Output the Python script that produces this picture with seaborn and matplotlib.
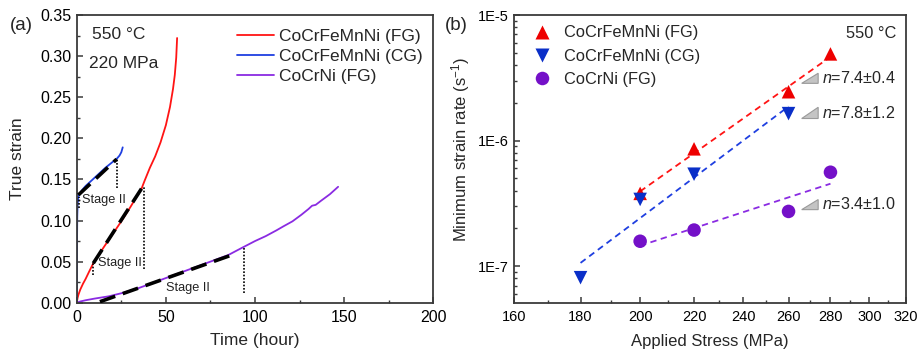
import numpy as np
import pandas as pd
import matplotlib
matplotlib.use("Agg")
import matplotlib.pyplot as plt
from matplotlib.patches import Polygon
from matplotlib.ticker import MultipleLocator, FixedLocator, NullFormatter, FixedFormatter, LogLocator
import seaborn as sns

# ---------------- data: panel (a) creep curves ----------------
fg_time = [0, 0.5, 1, 2, 3.5, 5, 7, 9.3, 15, 20, 25, 30, 36.4, 38, 41, 44, 47, 50, 52.3, 54, 55, 55.8, 56.3]
fg_strain = [0, 0.006, 0.010, 0.016, 0.023, 0.029, 0.038, 0.048, 0.067, 0.083, 0.099, 0.116, 0.139,
             0.148, 0.164, 0.178, 0.195, 0.216, 0.238, 0.260, 0.277, 0.298, 0.322]
cg_time = [0, 0.1, 0.2, 0.3, 0.5, 0.8, 1.2, 3, 5, 8, 12, 16, 20, 22.4, 24, 25, 25.8]
cg_strain = [0, 0.04, 0.08, 0.105, 0.12, 0.127, 0.131, 0.137, 0.142, 0.148, 0.156, 0.164, 0.171,
             0.175, 0.179, 0.183, 0.189]
ni_time = [0, 2, 5, 10, 18, 25, 35, 45, 55, 65, 75, 85, 92, 100, 106, 112, 116, 121, 126, 130,
           132, 134, 137, 142, 146.6]
ni_strain = [0, 0.0015, 0.003, 0.005, 0.0078, 0.0115, 0.018, 0.026, 0.034, 0.042, 0.050, 0.058,
             0.066, 0.075, 0.081, 0.088, 0.093, 0.099, 0.107, 0.114, 0.118, 0.119, 0.124, 0.132, 0.141]

# stage II linear fits (start/end points) and dotted markers
stage_fg = ([9.3, 36.4], [0.048, 0.139])
stage_cg = ([0.9, 22.4], [0.131, 0.1746])
stage_ni = ([13.0, 86.9], [0.0012, 0.058])
dotted_x = [1.3, 22.8, 9.3, 37.7, 94.0]
dotted_y0 = [0.1148, 0.139, 0.0337, 0.0406, 0.012]
dotted_y1 = [0.128, 0.1757, 0.048, 0.1404, 0.066]
stage_text_x = [3.1, 12.1, 50.1]
stage_text_y = [0.125, 0.0487, 0.0175]

# ---------------- data: panel (b) minimum strain rate ----------------
fg_stress = [200, 220, 260, 280]
fg_rate = [3.8e-7, 8.6e-7, 2.45e-6, 4.9e-6]
cg_stress = [180, 200, 220, 260]
cg_rate = [8.1e-8, 3.4e-7, 5.4e-7, 1.64e-6]
ni_stress = [200, 220, 260, 280]
ni_rate = [1.58e-7, 1.94e-7, 2.73e-7, 5.6e-7]
n_labels = ["7.4\u00b10.4", "7.8\u00b11.2", "3.4\u00b11.0"]

labels = ["CoCrFeMnNi (FG)", "CoCrFeMnNi (CG)", "CoCrNi (FG)"]
line_colors = ["#ff1414", "#1f3fe0", "#8a2be2"]
mark_colors = ["#ee0000", "#0a2fc8", "#7410c8"]

sns.set_theme(style="ticks")
plt.rcParams["font.family"] = ["Liberation Sans", "DejaVu Sans"]
plt.rcParams["mathtext.fontset"] = "custom"
plt.rcParams["mathtext.rm"] = "Liberation Sans"
plt.rcParams["mathtext.it"] = "Liberation Sans:italic"
plt.rcParams["axes.edgecolor"] = "#3a3a3a"
plt.rcParams["axes.linewidth"] = 1.3

fig = plt.figure(figsize=(9.21, 3.59), dpi=100)
axL = fig.add_axes([0.0833, 0.1568, 0.4705 - 0.0833, 0.9582 - 0.1568])
axR = fig.add_axes([0.558, 0.155, 0.9837 - 0.558, 0.9582 - 0.155])

# ---------- panel (a) ----------
curves = pd.concat([
    pd.DataFrame({"t": fg_time, "e": fg_strain, "s": labels[0]}),
    pd.DataFrame({"t": cg_time, "e": cg_strain, "s": labels[1]}),
    pd.DataFrame({"t": ni_time, "e": ni_strain, "s": labels[2]}),
])
sns.lineplot(data=curves, x="t", y="e", hue="s", palette=line_colors, sort=False,
             estimator=None, lw=1.3, ax=axL)
for st in (stage_fg, stage_cg, stage_ni):
    axL.plot(st[0], st[1], color="black", lw=2.6, ls=(0, (4.5, 2.2)), zorder=5)
for x, y0, y1 in zip(dotted_x, dotted_y0, dotted_y1):
    axL.plot([x, x], [y0, y1], color="black", lw=1.2, ls=(0, (1, 1)), zorder=5)
for x, y in zip(stage_text_x, stage_text_y):
    axL.text(x, y, "Stage II", fontsize=9.2, ha="left", va="center", color="#222")
axL.text(8.4, 0.3257, "550 \u00b0C", fontsize=12.5, ha="left", va="center")
axL.text(7.1, 0.2912, "220 MPa", fontsize=12.5, ha="left", va="center")

axL.set_xlim(0, 200)
axL.set_ylim(0, 0.35)
axL.xaxis.set_major_locator(MultipleLocator(50))
axL.xaxis.set_minor_locator(MultipleLocator(25))
axL.yaxis.set_major_locator(MultipleLocator(0.05))
axL.yaxis.set_minor_locator(MultipleLocator(0.025))
axL.yaxis.set_major_formatter(matplotlib.ticker.FormatStrFormatter("%.2f"))
axL.tick_params(which="both", direction="in", labelsize=11.5, colors="#3a3a3a", labelcolor="black")
axL.tick_params(which="major", length=4, width=1.1)
axL.tick_params(which="minor", length=2.5, width=1.0)
axL.tick_params(axis="y", pad=4)
axL.tick_params(axis="x", pad=5)
axL.set_xlabel("Time (hour)", fontsize=12.5, labelpad=6)
axL.set_ylabel("True strain", fontsize=12.5)
axL.yaxis.set_label_coords(-0.145, 0.5)
leg = axL.legend(loc="upper left", bbox_to_anchor=(0.44, 0.965), borderaxespad=0, borderpad=0.2,
                 handlelength=2.1, handletextpad=0.3, labelspacing=0.3, frameon=False, fontsize=12.5)
for h in leg.get_lines():
    h.set_linewidth(1.3)

# ---------- panel (b) ----------
pts = pd.concat([
    pd.DataFrame({"x": fg_stress, "y": fg_rate, "s": labels[0]}),
    pd.DataFrame({"x": cg_stress, "y": cg_rate, "s": labels[1]}),
    pd.DataFrame({"x": ni_stress, "y": ni_rate, "s": labels[2]}),
])
axR.set_xscale("log")
axR.set_yscale("log")
for xs, ys, c in zip((fg_stress, cg_stress, ni_stress), (fg_rate, cg_rate, ni_rate), line_colors):
    lx, ly = np.log10(xs), np.log10(ys)
    k, b = np.polyfit(lx, ly, 1)
    gx = np.linspace(lx.min(), lx.max(), 30)
    axR.plot(10 ** gx, 10 ** (k * gx + b), color=c, lw=1.3, ls=(0, (3.5, 2.5)), zorder=2)
sns.scatterplot(data=pts, x="x", y="y", hue="s", style="s", markers=["^", "v", "o"],
                palette=mark_colors, s=95, edgecolor="none", ax=axR, zorder=3)

axR.set_xlim(160, 320)
axR.set_ylim(5.06e-8, 1e-5)
xt = [160, 180, 200, 220, 240, 260, 280, 300, 320]
axR.xaxis.set_major_locator(FixedLocator(xt))
axR.xaxis.set_major_formatter(FixedFormatter([str(v) for v in xt]))
axR.xaxis.set_minor_locator(FixedLocator([170, 190, 210, 230, 250, 270, 290, 310]))
axR.xaxis.set_minor_formatter(NullFormatter())
axR.yaxis.set_major_locator(FixedLocator([1e-7, 1e-6, 1e-5]))
axR.yaxis.set_major_formatter(FixedFormatter(["1E-7", "1E-6", "1E-5"]))
axR.yaxis.set_minor_locator(LogLocator(base=10, subs=np.arange(2, 10)))
axR.yaxis.set_minor_formatter(NullFormatter())
axR.tick_params(which="both", direction="in", labelsize=10.5, colors="#3a3a3a", labelcolor="black")
axR.tick_params(which="major", length=4, width=1.1)
axR.tick_params(which="minor", length=2.5, width=1.0)
axR.tick_params(axis="y", pad=4)
axR.tick_params(axis="x", pad=5)
axR.set_xlabel("Applied Stress (MPa)", fontsize=12, labelpad=7)
axR.set_ylabel("Minimum strain rate (s$^{-1}$)", fontsize=12)
axR.yaxis.set_label_coords(-0.107, 0.535)
axR.legend(loc="upper left", bbox_to_anchor=(0.037, 0.975), borderaxespad=0, borderpad=0.2,
           handlelength=1.2, handletextpad=0.8, labelspacing=0.5, frameon=False, fontsize=11.8,
           markerscale=1.0)
axR.text(0.975, 0.935, "550 \u00b0C", transform=axR.transAxes, fontsize=11.8, ha="right", va="center")

tri_y = [(0.763, 0.798, 0.780), (0.641, 0.680, 0.660), (0.325, 0.360, 0.345)]
for (yb, yt, ytx), lab in zip(tri_y, n_labels):
    axR.add_patch(Polygon([(0.734, yb), (0.776, yt), (0.776, yb)], closed=True,
                          transform=axR.transAxes, facecolor="#c4c4c4", edgecolor="#9a9a9a", lw=0.8))
    axR.text(0.785, ytx, "$n$=" + lab, transform=axR.transAxes, fontsize=11.6, ha="left", va="center")

fig.text(0.011, 0.930, "(a)", fontsize=13.5, ha="left", va="center")
fig.text(0.483, 0.930, "(b)", fontsize=13.5, ha="left", va="center")

fig.savefig("out.png", dpi=100)
